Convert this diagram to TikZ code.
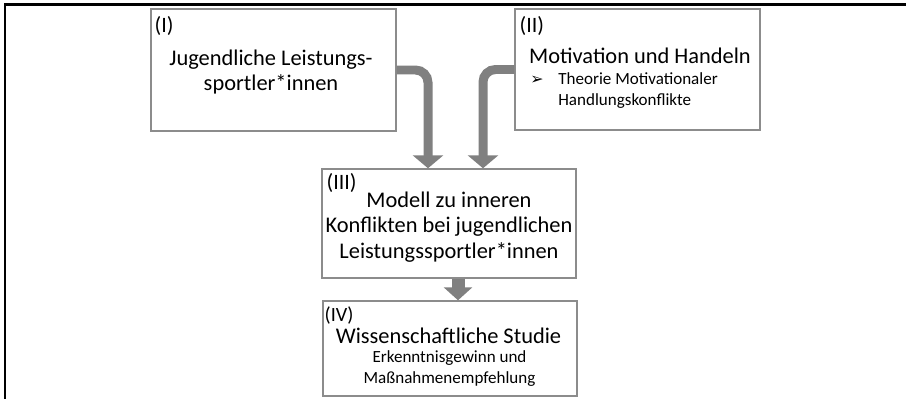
\documentclass[tikz,border=0pt]{standalone}
\usepackage{fontspec}
\setmainfont{Carlito}
\newfontfamily\symbolfont{DejaVu Sans}
\usepackage{tikz}
\usetikzlibrary{arrows.meta}
\usetikzlibrary{calc,positioning}

\begin{document}
\begin{tikzpicture}[x=0.02cm, y=-0.02cm,
    box/.style={draw=black!45, line width=0.8pt, minimum width=4.9cm, inner sep=0pt},
    tag/.style={anchor=north west, inner sep=0pt, font=\fontsize{12.5}{14}\selectfont},
    big/.style={inner sep=0pt, align=center, font=\fontsize{12.75}{14.4}\selectfont},
    small/.style={inner sep=0pt, align=center, font=\fontsize{9.7}{11.6}\selectfont},
    flow/.style={draw=black!50, line width=0.18cm, rounded corners=0.25cm, -{Triangle[width=0.6cm, length=0.26cm]}}]

    \useasboundingbox (0,0) rectangle (907,399);
    \draw[line width=0.06cm] (5,399) -- (5,4.5) -- (906,4.5);

    % the four boxes
    \node[box, minimum height=2.44cm] (sportler) at (273.5,70) {};
    \node[box, minimum height=2.42cm] (motivation) at (637.5,69.5) {};
    \node[box, minimum width=5.08cm, minimum height=2.18cm] (modell) at (449,223.5) {};
    \node[box, minimum width=5.08cm, minimum height=1.9cm] (studie) at (450,348.5) {};

    \node[tag] (sportler-nr) at ($(sportler.north west)+(4,8)$) {(I)};
    \node[tag] (motivation-nr) at ($(motivation.north west)+(5,8)$) {(II)};
    \node[tag] (modell-nr) at ($(modell.north west)+(5,5)$) {(III)};
    \node[tag, font=\fontsize{11.5}{13}\selectfont] (studie-nr) at ($(studie.north west)+(2,6)$) {(IV)};

    % base = last line
    \node[big, anchor=base] (sportler-txt) at (271,91) {Jugendliche Leistungs-\\sportler*innen};

    \node[big, anchor=base] (motivation-txt) at (640,63) {Motivation und Handeln};
    \node[inner sep=0pt, anchor=base west, font=\symbolfont\fontsize{9}{11}\selectfont] (motivation-pfeil) at (530,84) {➢};
    \node[small, align=left, anchor=base west] (motivation-sub) at (558,105) {Theorie Motivationaler\\Handlungskonflikte};

    \node[big, anchor=base] (modell-txt) at (449,258) {Modell zu inneren\\Konflikten bei jugendlichen\\Leistungssportler*innen};

    \node[big, anchor=base] (studie-txt) at (448.5,343) {Wissenschaftliche Studie};
    \node[small, anchor=base] (studie-sub) at (449.5,383) {Erkenntnisgewinn und\\Maßnahmenempfehlung};

    % arrows
    \coordinate (knick1) at (428,0);
    \coordinate (knick2) at (483,0);
    \coordinate (knick3) at (458,0);
    \draw[flow] (sportler.east) -| (knick1 |- modell.north);
    \draw[flow] (motivation.west) -| (knick2 |- modell.north);
    \draw[flow, line width=0.26cm, -{Triangle[width=0.56cm, length=0.26cm]}] (knick3 |- modell.south) -- (knick3 |- studie.north);

\end{tikzpicture}
\end{document}
